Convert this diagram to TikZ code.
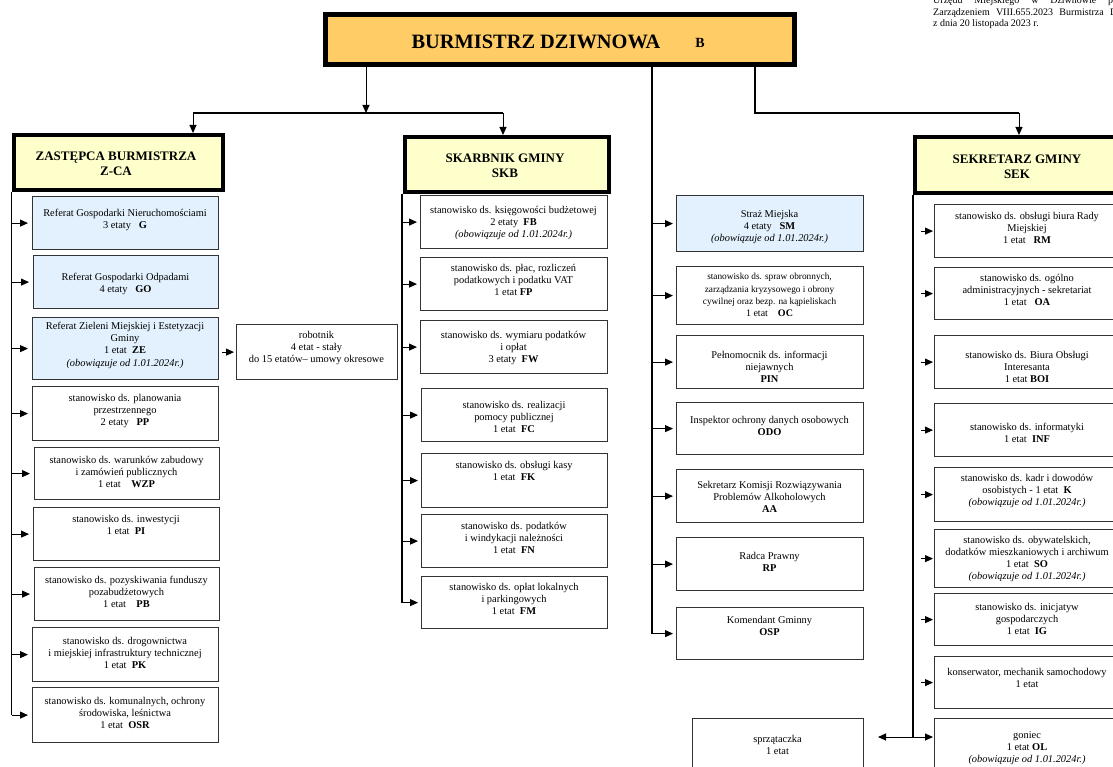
\documentclass[tikz,border=0pt]{standalone}
\usepackage{fontspec}
\setmainfont{Liberation Serif}
\usetikzlibrary{arrows.meta,calc}
\definecolor{orng}{HTML}{FFCC66}
\definecolor{ltyel}{HTML}{FFFFCC}
\definecolor{ltblue}{HTML}{E2F1FD}
\newcommand\ubox[8]{%
  \node[box,#6,minimum width={#4-#2},minimum height={#5-#3}] (#1) at (#2,#3) {};
  \node[txt] (#1t) at ({(#2+#4)/2},#7) {#8};}
\begin{document}
\begin{tikzpicture}[x=1pt,y=-1pt,
  box/.style={draw=black!80,line width=1.2pt,fill=white,inner sep=0pt,anchor=north west},
  blue/.style={fill=ltblue},
  head/.style={draw=black,line width=4pt,fill=ltyel,inner sep=0pt,anchor=north west},
  txt/.style={align=center,inner sep=0pt,font=\fontsize{10.4}{12.3}\selectfont},
  htxt/.style={align=center,inner sep=0pt,font=\fontsize{13}{15}\selectfont\bfseries},
  trunk/.style={line width=1.8pt,black},
  conn/.style={line width=1.2pt,black},
  arr/.style={line width=1pt,black,-{Triangle[length=8pt,width=7pt]}},
  gap/.style={shorten >=4pt}]
\useasboundingbox (0,0) rectangle (1113,767);
\fill[white] (0,0) rectangle (1113,767);
\clip (0,0) rectangle (1113,767);

% header note (top right)
\node[anchor=base west,inner sep=0pt,font=\fontsize{10}{11}\selectfont] (n1) at (933,4)
  {\makebox[180pt][s]{Urzędu\hfill Miejskiego\hfill w\hfill Dziwnowie\hfill p}};
\node[anchor=base west,inner sep=0pt,font=\fontsize{10}{11}\selectfont] (n2) at (933,16)
  {\makebox[184pt][s]{Zarządzeniem\hfill VIII.655.2023\hfill Burmistrza\hfill D}};
\node[anchor=base west,inner sep=0pt,font=\fontsize{10}{11}\selectfont] (n3) at (933,27)
  {z dnia 20 listopada 2023 r.};

% Burmistrz
\node[head,fill=orng,line width=5pt,minimum width=469pt,minimum height=50pt] (bur) at (323,12) {};
\node[inner sep=0pt,font=\fontsize{20.4}{22}\selectfont\bfseries] (burt) at (536,42) {BURMISTRZ DZIWNOWA};
\node[inner sep=0pt,font=\fontsize{14}{16}\selectfont\bfseries] (burb) at (700,43) {B};

% heads
\node[head,minimum width=209pt,minimum height=55pt] (zca) at (12,133) {};
\node[htxt] (zcat) at (116,164) {ZASTĘPCA BURMISTRZA\\Z-CA};
\node[head,minimum width=204pt,minimum height=55pt] (skb) at (403,135) {};
\node[htxt] (skbt) at (505,166) {SKARBNIK GMINY\\SKB};
\node[head,minimum width=208pt,minimum height=56pt] (sek) at (913,135) {};
\node[htxt] (sekt) at (1017,167) {SEKRETARZ GMINY\\SEK};

% top connectors
\coordinate (j1) at (366,113);
\coordinate (hL) at (193,113);
\coordinate (hR) at (503,113);
\coordinate (c755) at (755,113);
\draw[arr] (bur.south -| j1) -- (j1);
\draw[conn] (hL) -- (hR);
\draw[arr] (hL) -- (hL |- zca.north);
\draw[arr] (hR) -- (hR |- skb.north);
\draw[conn] (bur.south -| c755) -- (c755) -- (c755 -| sek.north);
\draw[arr] (c755 -| sek.north) -- (sek.north);

% left column (Z-CA)
\ubox{G}{32}{196}{218}{249}{blue}{220}{Referat Gospodarki Nieruchomościami\\3 etaty\ \ \ \textbf{G}}
\ubox{GO}{33}{255}{218}{308}{blue}{284}{Referat Gospodarki Odpadami\\4 etaty\ \ \ \textbf{GO}}
\ubox{ZE}{32}{317}{218}{379}{blue}{345}{Referat Zieleni Miejskiej i Estetyzacji\\Gminy\\1 etat\ \ \textbf{ZE}\\\textit{(obowiązuje od 1.01.2024r.)}}
\ubox{PP}{32}{386}{218}{440}{}{411}{stanowisko ds. planowania\\przestrzennego\\2 etaty\ \ \ \textbf{PP}}
\ubox{WZP}{34}{447}{219}{499}{}{472}{stanowisko ds. warunków zabudowy\\i zamówień publicznych\\1 etat\ \ \ \ \textbf{WZP}}
\ubox{PI}{33}{507}{219}{560}{}{525}{stanowisko ds. inwestycji\\1 etat\ \ \textbf{PI}}
\ubox{PB}{34}{567}{219}{620}{}{592}{stanowisko ds. pozyskiwania funduszy\\pozabudżetowych\\1 etat\ \ \ \ \textbf{PB}}
\ubox{PK}{32}{627}{218}{681}{}{653}{stanowisko ds. drogownictwa\\i miejskiej infrastruktury technicznej\\1 etat\ \ \textbf{PK}}
\ubox{OSR}{32}{687}{218}{742}{}{713}{stanowisko ds. komunalnych, ochrony\\środowiska, leśnictwa\\1 etat\ \ \textbf{OSR}}
\ubox{rob}{236}{324}{397}{379}{}{348}{robotnik\\4 etat - stały\\do 15 etatów– umowy okresowe}

\coordinate (zt) at (11.5,188);
\draw[trunk] (zca.south -| zt) -- (OSR.west -| zt);
\foreach \b in {G,GO,ZE,PP,WZP,PI,PB,PK,OSR}
  \draw[arr,gap] (\b.west -| zt) -- (\b.west);
\draw[arr,shorten <=3pt,shorten >=2pt] (ZE.east |- rob.west) -- (rob.west);

% Skarbnik column
\ubox{FB}{420}{195}{607}{248}{}{223}{stanowisko ds. księgowości budżetowej\\2 etaty\ \ \textbf{FB}\\\textit{(obowiązuje od 1.01.2024r.)}}
\ubox{FP}{420}{257}{607}{310}{}{280}{stanowisko ds. płac, rozliczeń\\podatkowych i podatku VAT\\1 etat\ \textbf{FP}}
\ubox{FW}{420}{320}{607}{373}{}{348}{stanowisko ds. wymiaru podatków\\i opłat\\3 etaty\ \ \textbf{FW}}
\ubox{FC}{421}{388}{607}{441}{}{417}{stanowisko ds. realizacji\\pomocy publicznej\\1 etat\ \ \textbf{FC}}
\ubox{FK}{421}{453}{607}{507}{}{471}{stanowisko ds. obsługi kasy\\1 etat\ \ \textbf{FK}}
\ubox{FN}{421}{514}{607}{567}{}{538}{stanowisko ds. podatków\\i windykacji należności\\1 etat\ \ \textbf{FN}}
\ubox{FM}{421}{576}{607}{628}{}{599}{stanowisko ds. opłat lokalnych\\i parkingowych\\1 etat\ \ \textbf{FM}}

\coordinate (st) at (402,190);
\draw[trunk] (skb.south -| st) -- (FM.west -| st);
\foreach \b in {FB,FP,FW,FC,FK,FN,FM}
  \draw[arr,shorten >=3pt] (\b.west -| st) -- (\b.west);

% middle column
\ubox{SM}{676}{195}{863}{251}{blue}{227}{Straż Miejska\\4 etaty\ \ \ \textbf{SM}\\\textit{(obowiązuje od 1.01.2024r.)}}
\ubox{OC}{676}{266}{863}{324}{}{295}{\fontsize{9.3}{10.2}\selectfont stanowisko ds. spraw obronnych,\\\fontsize{9.3}{10.2}\selectfont zarządzania kryzysowego i obrony\\\fontsize{9.3}{10.2}\selectfont cywilnej oraz bezp. na kąpieliskach\\\fontsize{10}{11}\selectfont 1 etat\ \ \ \ \textbf{OC}}
\ubox{PIN}{676}{335}{863}{388}{}{367}{Pełnomocnik ds. informacji\\niejawnych\\\textbf{PIN}}
\ubox{ODO}{676}{402}{863}{454}{}{426}{Inspektor ochrony danych osobowych\\\textbf{ODO}}
\ubox{AA}{676}{469}{863}{522}{}{497}{Sekretarz Komisji Rozwiązywania\\Problemów Alkoholowych\\\textbf{AA}}
\ubox{RP}{676}{537}{863}{590}{}{562}{Radca Prawny\\\textbf{RP}}
\ubox{OSP}{676}{607}{863}{659}{}{626}{Komendant Gminny\\\textbf{OSP}}

\coordinate (mt) at (652,62);
\draw[trunk] (bur.south -| mt) -- (OSP.west -| mt);
\foreach \b in {SM,OC,PIN,ODO,AA,RP,OSP}
  \draw[arr,shorten >=3pt] (\b.west -| mt) -- (\b.west);

% right column (SEK)
\ubox{RM}{934}{204}{1120}{257}{}{228}{stanowisko ds. obsługi biura Rady\\Miejskiej\\1 etat\ \ \ \textbf{RM}}
\ubox{OA}{934}{267}{1120}{319}{}{290}{stanowisko ds. ogólno\\administracyjnych - sekretariat\\1 etat\ \ \ \textbf{OA}}
\ubox{BOI}{934}{335}{1120}{388}{}{367}{stanowisko ds. Biura Obsługi\\Interesanta\\1 etat \textbf{BOI}}
\ubox{INF}{934}{403}{1120}{456}{}{433}{stanowisko ds. informatyki\\1 etat\ \ \textbf{INF}}
\ubox{K}{934}{467}{1120}{521}{}{491}{stanowisko ds. kadr i dowodów\\osobistych - 1 etat\ \ \textbf{K}\\\textit{(obowiązuje od 1.01.2024r.)}}
\ubox{SO}{934}{529}{1120}{587}{}{559}{stanowisko ds. obywatelskich,\\dodatków mieszkaniowych i archiwum\\1 etat\ \ \textbf{SO}\\\textit{(obowiązuje od 1.01.2024r.)}}
\ubox{IG}{934}{593}{1120}{645}{}{619}{stanowisko ds. inicjatyw\\gospodarczych\\1 etat\ \ \textbf{IG}}
\ubox{kons}{934}{656}{1120}{708}{}{678}{konserwator, mechanik samochodowy\\1 etat}
\ubox{OL}{934}{718}{1120}{790}{}{748}{goniec\\1 etat \textbf{OL}\\\textit{(obowiązuje od 1.01.2024r.)}}
\ubox{spr}{692}{718}{863}{790}{}{745}{sprzątaczka\\1 etat}

\coordinate (rt) at (913,191);
\coordinate (rb) at (913,737);
\draw[trunk] (sek.south -| rt) -- (rb);
\foreach \b in {RM,OA,BOI,INF,K,SO,IG,kons}
  \draw[arr,shorten >=1pt] ($(\b.west)+(-13,0)$) -- (\b.west);
\coordinate (sp) at (878,737);
\draw[arr] (rb) -- (sp);
\draw[arr,shorten >=1pt] (rb) -- (rb -| OL.west);
\end{tikzpicture}
\end{document}
